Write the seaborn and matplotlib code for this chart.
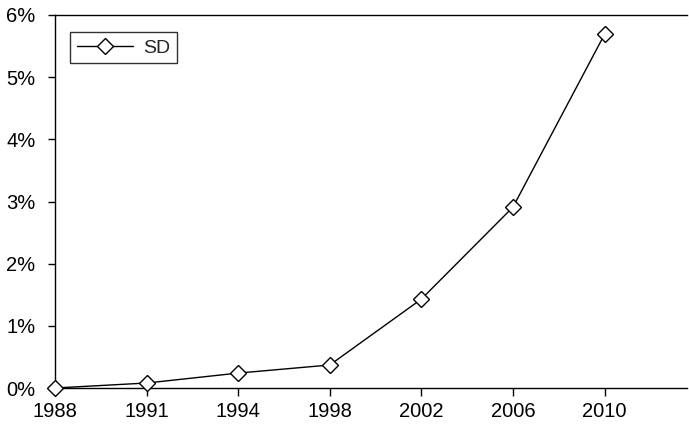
import matplotlib
matplotlib.use("Agg")
import matplotlib.pyplot as plt
import seaborn as sns
import pandas as pd
from matplotlib.ticker import FuncFormatter

years = ["1988", "1991", "1994", "1998", "2002", "2006", "2010"]
sd_values = [0.0, 0.08, 0.24, 0.37, 1.43, 2.91, 5.69]
y_ticks = [0, 1, 2, 3, 4, 5, 6]

sns.set_theme(style="white")
plt.rcParams['font.family'] = ['Liberation Sans', 'DejaVu Sans']

df = pd.DataFrame({"pos": range(len(years)), "year": years, "SD": sd_values})

fig = plt.figure(figsize=(6.89, 4.26), dpi=100)
ax = fig.add_axes([55/689, 1-388/426, 632/689, 373/426])

sns.lineplot(data=df, x="pos", y="SD", ax=ax, color="black", linewidth=1.0,
             marker="D", markersize=8, markerfacecolor="white",
             markeredgecolor="black", markeredgewidth=1.0, label="SD",
             clip_on=False, zorder=5)

ax.set_xlim(0, 6.9)
ax.set_ylim(0, 6)
ax.set_xticks(range(len(years)))
ax.set_xticklabels(years)
ax.set_yticks(y_ticks)
ax.yaxis.set_major_formatter(FuncFormatter(lambda v, p: f"{int(v)}%"))
ax.set_xlabel("")
ax.set_ylabel("")

for s in ["left", "bottom", "top"]:
    ax.spines[s].set_visible(True)
    ax.spines[s].set_color("black")
    ax.spines[s].set_linewidth(1.0)
ax.spines["right"].set_visible(False)

ax.tick_params(axis="both", which="major", direction="out", width=1,
               color="black", labelsize=14.5, labelcolor="black", bottom=True, left=True)
ax.tick_params(axis="x", length=6, pad=4)
ax.tick_params(axis="y", length=5, pad=9)

leg = ax.legend(loc="upper left", bbox_to_anchor=(0.024, 0.954), frameon=True,
                fancybox=False, fontsize=14, handlelength=2.9, borderpad=0.35,
                handletextpad=0.5, borderaxespad=0)
leg.get_frame().set_edgecolor("black")
leg.get_frame().set_linewidth(1.0)

fig.savefig("out.png", dpi=100)
